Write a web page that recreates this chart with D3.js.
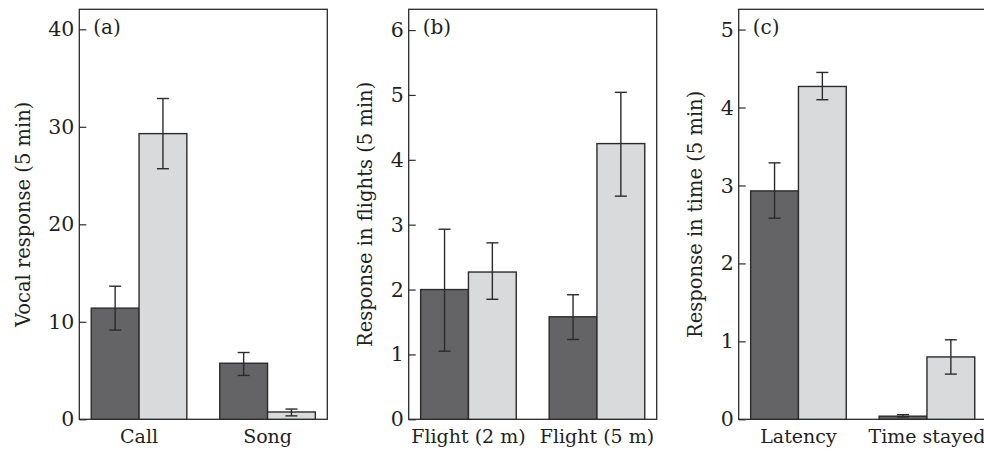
<!DOCTYPE html>
<html>
<head>
<meta charset="utf-8">
<script src="https://cdn.jsdelivr.net/npm/d3@7"></script>
<style>
  html, body { margin: 0; padding: 0; background: #ffffff; }
  svg { display: block; }
  text { font-family: "DejaVu Serif", "Liberation Serif", serif; fill: #231f20; }
</style>
</head>
<body>
<svg id="chart" width="984" height="451"></svg>
<script>
// ---- Data ----
const catsA = ["Call", "Song"];
const darkA = [11.4, 5.75];
const darkErrA = [[9.15, 13.65], [4.5, 6.85]];
const lightA = [29.3, 0.75];
const lightErrA = [[25.7, 32.9], [0.35, 1.05]];
const ticksA = [0, 10, 20, 30, 40];

const catsB = ["Flight (2 m)", "Flight (5 m)"];
const darkB = [2.0, 1.58];
const darkErrB = [[1.05, 2.93], [1.23, 1.92]];
const lightB = [2.27, 4.25];
const lightErrB = [[1.85, 2.72], [3.44, 5.04]];
const ticksB = [0, 1, 2, 3, 4, 5, 6];

const catsC = ["Latency", "Time stayed"];
const darkC = [2.93, 0.04];
const darkErrC = [[2.58, 3.29], [0.03, 0.06]];
const lightC = [4.27, 0.8];
const lightErrC = [[4.10, 4.45], [0.58, 1.02]];
const ticksC = [0, 1, 2, 3, 4, 5];

const panelLabels = ["(a)", "(b)", "(c)"];
const yTitles = ["Vocal response (5 min)", "Response in flights (5 min)", "Response in time (5 min)"];
const yMax = [42.05, 6.32, 5.26];
const series = ["dark", "light"];

// ---- Layout ----
const svg = d3.select("#chart");
const plotTop = 9.3, plotBottom = 419.3, panelW = 248;
const lefts = [79.3, 408.7, 738.7];
const titleOffsets = [56, 44, 44];
const colors = { dark: "#646466", light: "#d9dadc" };
const ink = "#2b2b2b";

const panels = [
  { cats: catsA, dark: darkA, darkErr: darkErrA, light: lightA, lightErr: lightErrA, ticks: ticksA },
  { cats: catsB, dark: darkB, darkErr: darkErrB, light: lightB, lightErr: lightErrB, ticks: ticksB },
  { cats: catsC, dark: darkC, darkErr: darkErrC, light: lightC, lightErr: lightErrC, ticks: ticksC }
];

panels.forEach((p, i) => {
  const g = svg.append("g").attr("transform", `translate(${lefts[i]},0)`);
  const y = d3.scaleLinear().domain([0, yMax[i]]).range([plotBottom, plotTop]);
  const x = d3.scaleBand().domain(p.cats).range([0, panelW]).paddingInner(0.256).paddingOuter(0.093);
  const xs = d3.scaleBand().domain(series).range([0, x.bandwidth()]);

  // frame
  g.append("rect")
    .attr("x", 0).attr("y", plotTop)
    .attr("width", panelW).attr("height", plotBottom - plotTop)
    .attr("fill", "none").attr("stroke", ink).attr("stroke-width", 1.3);

  // y axis (inward ticks)
  const yAxis = d3.axisLeft(y).tickValues(p.ticks).tickSize(-7).tickPadding(5).tickFormat(d3.format("d"));
  const ya = g.append("g").call(yAxis);
  ya.select(".domain").remove();
  ya.selectAll(".tick line").attr("stroke", ink).attr("stroke-width", 1.2);
  ya.selectAll(".tick text").attr("font-size", 20.5).attr("font-family", "DejaVu Serif").attr("fill", "#231f20");

  // x axis labels
  const xAxis = d3.axisBottom(x).tickSize(0).tickPadding(10);
  const xa = g.append("g").attr("transform", `translate(0,${plotBottom})`).call(xAxis);
  xa.select(".domain").remove();
  xa.selectAll(".tick text").attr("font-size", 19).attr("font-family", "DejaVu Serif").attr("fill", "#231f20");

  // bars
  p.cats.forEach((c, j) => {
    series.forEach(s => {
      const v = p[s][j];
      const bx = x(c) + xs(s);
      g.append("rect")
        .attr("x", bx).attr("y", y(v))
        .attr("width", xs.bandwidth()).attr("height", y(0) - y(v))
        .attr("fill", colors[s]).attr("stroke", ink).attr("stroke-width", 1.4);
      const e = p[s + "Err"][j];
      const cx = bx + xs.bandwidth() / 2;
      const eg = g.append("g").attr("stroke", ink).attr("stroke-width", 1.4);
      eg.append("line").attr("x1", cx).attr("x2", cx).attr("y1", y(e[0])).attr("y2", y(e[1]));
      eg.append("line").attr("x1", cx - 6).attr("x2", cx + 6).attr("y1", y(e[0])).attr("y2", y(e[0]));
      eg.append("line").attr("x1", cx - 6).attr("x2", cx + 6).attr("y1", y(e[1])).attr("y2", y(e[1]));
    });
  });

  // panel label
  g.append("text").attr("x", 14).attr("y", 34).attr("font-size", 20).text(panelLabels[i]);

  // y title
  g.append("text")
    .attr("transform", `translate(${-titleOffsets[i]},${(plotTop + plotBottom) / 2}) rotate(-90)`)
    .attr("text-anchor", "middle").attr("dy", "0.35em")
    .attr("font-size", 19.5).text(yTitles[i]);
});
</script>
</body>
</html>
